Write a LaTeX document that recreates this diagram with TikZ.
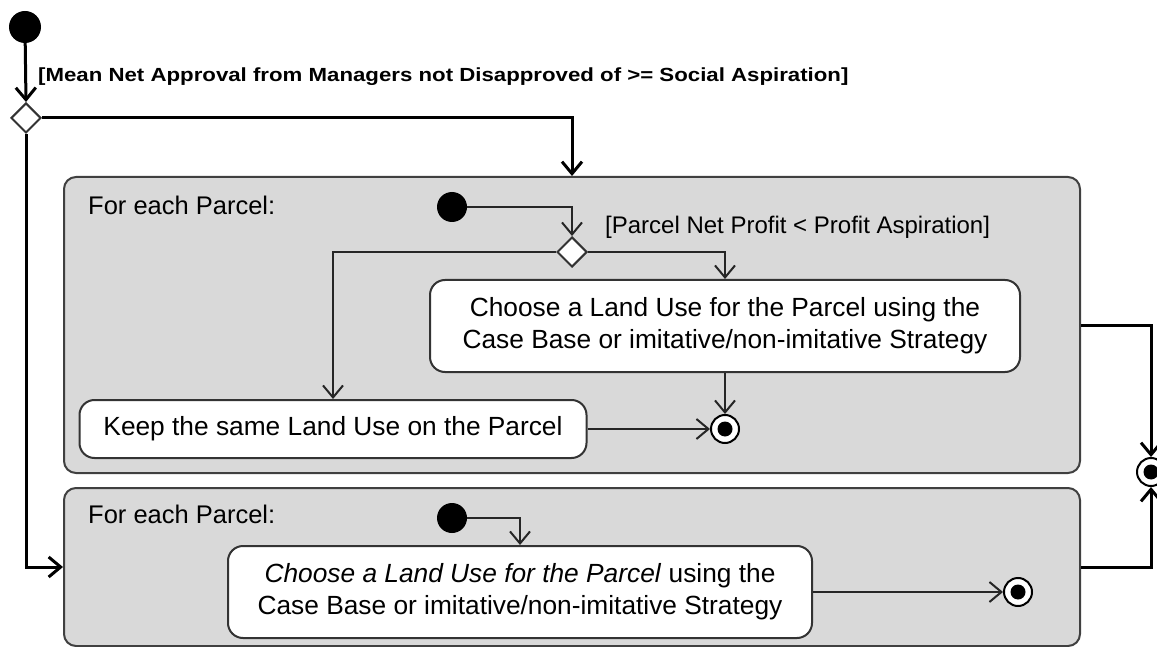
\documentclass[tikz,border=0pt]{standalone}
\usepackage{fontspec}
\setmainfont{Liberation Sans}
\usetikzlibrary{arrows.meta,shapes.geometric}
\begin{document}
\begin{tikzpicture}[x=1pt,y=-1pt,
  region/.style={draw=black!75, line width=2pt, fill=black!15, rounded corners=12pt},
  action/.style={draw=black!80, line width=2pt, fill=white, rounded corners=15pt, align=center, inner sep=0pt, font=\fontsize{26.3}{32}\selectfont},
  initnode/.style={circle, fill=black, inner sep=0pt, minimum size=#1},
  finalnode/.style={circle, draw=black, line width=2pt, fill=white, inner sep=0pt, minimum size=28pt,
     path picture={\fill[black] (path picture bounding box.center) circle (7.5pt);}},
  decision/.style={diamond, draw=black!80, line width=2pt, fill=white, inner sep=0pt, minimum width=30pt, minimum height=30pt},
  conn/.style={draw=black!85, line width=2pt, -{Straight Barb[length=12pt,width=20pt]}},
  bconn/.style={draw=black, line width=3pt, -{Straight Barb[length=12pt,width=20pt]}},
  lbl/.style={font=\fontsize{25.5}{28}\selectfont, inner sep=0pt, anchor=base west}
]
\useasboundingbox (0,0) rectangle (1157,647);

% regions
\node[region, minimum width=1016pt, minimum height=296pt, inner sep=0pt] (r1) at (572,325) {};
\node[region, minimum width=1016pt, minimum height=158pt, inner sep=0pt] (r2) at (572,567) {};
\node[lbl] (l1) at (88,215) {For each Parcel:};
\node[lbl] (l2) at (88,523) {For each Parcel:};

% top level
\node[initnode=32pt] (i0) at (25,27) {};
\node[decision] (d0) at (26,118) {};
\node[inner sep=0pt, anchor=west, font=\bfseries\fontsize{19}{22}\selectfont] (g0) at (38,77) {\scalebox{1.17}[1]{[Mean Net Approval from Managers not Disapproved of >= Social Aspiration]}};
\node[finalnode] (f0) at (1151,472) {};

% region 1
\node[initnode=30pt] (i1) at (452,207) {};
\node[decision] (d1) at (572,252) {};
\node[inner sep=0pt, anchor=west, font=\fontsize{24}{26}\selectfont] (g1) at (605,227) {[Parcel Net Profit < Profit Aspiration]};
\node[action, minimum width=590pt, minimum height=92pt] (c1) at (725,326) {Choose a Land Use for the Parcel using the\\Case Base or imitative/non-imitative Strategy};
\node[action, minimum width=507pt, minimum height=58pt] (k1) at (333,429) {Keep the same Land Use on the Parcel};
\node[finalnode] (f1) at (725,429) {};

% region 2
\node[initnode=30pt] (i2) at (452,518) {};
\node[action, minimum width=584pt, minimum height=92pt] (c2) at (520,592) {\textit{Choose a Land Use for the Parcel} using the\\Case Base or imitative/non-imitative Strategy};
\node[finalnode] (f2) at (1018,592) {};

% connectors
\draw[bconn] (i0) -- (d0.north);
\draw[bconn] (d0.east) -| (r1.north -| d1);
\draw[bconn] (d0.south) |- (r2.west);
\draw[bconn] (r1.east) -| (f0.north);
\draw[bconn] (r2.east) -| (f0.south);

\draw[conn] (i1) -| (d1.north);
\draw[conn] (d1.west) -| (k1.north);
\draw[conn] (d1.east) -| (c1.north);
\draw[conn] (c1.south) -- (f1.north);
\draw[conn] (k1.east) -- (f1.west);

\draw[conn] (i2) -| (c2.north);
\draw[conn] (c2.east) -- (f2.west);
\end{tikzpicture}
\end{document}
